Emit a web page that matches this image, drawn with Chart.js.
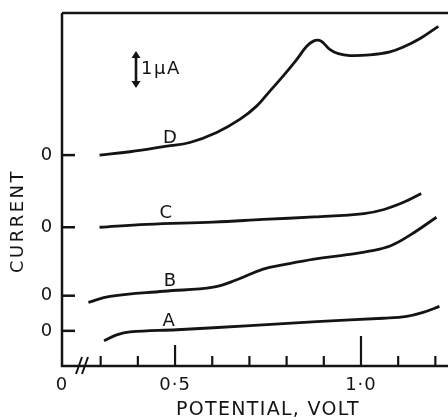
<!DOCTYPE html>
<html>
<head>
<meta charset="utf-8">
<script src="https://cdn.jsdelivr.net/npm/chart.js@4/dist/chart.umd.min.js"></script>
<style>
  body { margin: 0; background: #fff; }
</style>
</head>
<body>
<canvas id="myChart" width="448" height="420"></canvas>
<script>
// traces: potential (V) / current (uA, relative to each trace's own zero)
const potA = [0.309, 0.343, 0.379, 0.505, 0.702, 0.881, 1.060, 1.123, 1.167, 1.211];
const curA = [-0.27, -0.11, -0.03, 0.03, 0.14, 0.25, 0.34, 0.39, 0.50, 0.66];

const potB = [0.267, 0.325, 0.469, 0.603, 0.666, 0.737, 0.793, 0.874, 0.963, 1.026, 1.080, 1.134, 1.203];
const curB = [-0.18, -0.02, 0.12, 0.23, 0.43, 0.72, 0.84, 0.99, 1.11, 1.21, 1.35, 1.65, 2.12];

const potC = [0.297, 0.424, 0.603, 0.737, 0.874, 1.008, 1.062, 1.116, 1.162];
const curC = [0.00, 0.08, 0.14, 0.21, 0.28, 0.37, 0.48, 0.68, 0.91];

const potD = [0.297, 0.379, 0.478, 0.540, 0.612, 0.675, 0.720, 0.755, 0.791, 0.827, 0.854, 0.872, 0.888,
              0.899, 0.917, 0.939, 0.970, 1.024, 1.078, 1.114, 1.159, 1.208];
const curD = [0.00, 0.09, 0.24, 0.34, 0.61, 0.97, 1.33, 1.73, 2.14, 2.58, 2.94, 3.08, 3.10,
              3.03, 2.85, 2.74, 2.69, 2.71, 2.79, 2.92, 3.15, 3.48];

// each trace is shifted up so it sits on its own zero
const traceNames = ["A", "B", "C", "D"];
const traceZeros = [0.95, 1.9, 3.75, 5.7];

const xTickVals = [0.3, 0.4, 0.5, 0.6, 0.7, 0.8, 0.9, 1.0, 1.1, 1.2];
const xTickText = ["", "", "0·5", "", "", "", "", "1·0", "", ""];

const INK = "#141414";
const FONT = "'DejaVu Sans', sans-serif";

function toPoints(pot, cur, zero) {
  return pot.map((v, i) => ({ x: v, y: cur[i] + zero }));
}

const traces = [[potA, curA], [potB, curB], [potC, curC], [potD, curD]];

const datasets = traces.map((t, i) => ({
  label: traceNames[i],
  data: toPoints(t[0], t[1], traceZeros[i]),
  borderColor: INK,
  borderWidth: 2.8,
  pointRadius: 0,
  fill: false,
  tension: 0.4
}));

// frame, ticks, labels and the 1 uA bar
const axesPlugin = {
  id: "axesPlugin",
  afterDatasetsDraw(chart) {
    const ctx = chart.ctx;
    const xs = chart.scales.x;
    const ys = chart.scales.y;
    const a = chart.chartArea;
    ctx.save();
    ctx.strokeStyle = INK;
    ctx.fillStyle = INK;
    ctx.lineCap = "butt";

    // left axis, bottom axis, top line
    ctx.lineWidth = 2.5;
    ctx.beginPath();
    ctx.moveTo(a.left, a.top);
    ctx.lineTo(a.right, a.top);
    ctx.moveTo(a.left, a.top);
    ctx.lineTo(a.left, a.bottom);
    ctx.lineTo(a.right, a.bottom);
    ctx.stroke();

    // axis break
    ctx.lineWidth = 2;
    const bx = a.left + 17;
    [0, 6].forEach(d => {
      ctx.beginPath();
      ctx.moveTo(bx + d - 3, a.bottom + 8);
      ctx.lineTo(bx + d + 3, a.bottom - 9);
      ctx.stroke();
    });

    // potential ticks, pointing inward
    ctx.lineWidth = 2.2;
    xTickVals.forEach((v, i) => {
      const px = xs.getPixelForValue(v);
      let len = 10;
      if (xTickText[i] === "0·5") len = 21;
      if (xTickText[i] === "1·0") len = 30;
      ctx.beginPath();
      ctx.moveTo(px, a.bottom);
      ctx.lineTo(px, a.bottom - len);
      ctx.stroke();
    });

    ctx.font = "18px " + FONT;
    ctx.letterSpacing = "1px";
    ctx.textAlign = "center";
    ctx.textBaseline = "middle";
    xTickVals.forEach((v, i) => {
      if (xTickText[i]) ctx.fillText(xTickText[i], xs.getPixelForValue(v), a.bottom + 19);
    });
    ctx.fillText("0", a.left, a.bottom + 19);

    // zero ticks for each trace
    ctx.lineWidth = 2.5;
    traceZeros.forEach(z => {
      const py = ys.getPixelForValue(z);
      ctx.beginPath();
      ctx.moveTo(a.left, py);
      ctx.lineTo(a.left + 13, py);
      ctx.stroke();
      ctx.fillText("0", a.left - 15, py);
    });
    ctx.letterSpacing = "0px";

    // trace letters
    ctx.font = "18px " + FONT;
    const letterPot = [0.483, 0.486, 0.475, 0.486];
    const letterLift = [0.27, 0.38, 0.38, 0.45];
    traceNames.forEach((n, i) => {
      ctx.fillText(n, xs.getPixelForValue(letterPot[i]), ys.getPixelForValue(traceZeros[i] + letterLift[i]));
    });

    // 1 uA scale bar
    const sx = xs.getPixelForValue(0.395);
    const y0 = ys.getPixelForValue(7.51);
    const y1 = ys.getPixelForValue(8.51);
    ctx.lineWidth = 2.6;
    ctx.beginPath();
    ctx.moveTo(sx, y0 - 4);
    ctx.lineTo(sx, y1 + 4);
    ctx.stroke();
    ctx.beginPath();
    ctx.moveTo(sx, y1);
    ctx.lineTo(sx - 4.5, y1 + 7);
    ctx.lineTo(sx + 4.5, y1 + 7);
    ctx.closePath();
    ctx.moveTo(sx, y0);
    ctx.lineTo(sx - 4.5, y0 - 7);
    ctx.lineTo(sx + 4.5, y0 - 7);
    ctx.closePath();
    ctx.fill();
    ctx.textAlign = "left";
    ctx.letterSpacing = "1.5px";
    ctx.fillText("1\u03bcA", sx + 5, (y0 + y1) / 2);

    // axis titles
    ctx.font = "19px " + FONT;
    ctx.letterSpacing = "1.3px";
    ctx.textAlign = "center";
    ctx.fillText("POTENTIAL, VOLT", 268, a.bottom + 44);
    ctx.font = "18px " + FONT;
    ctx.letterSpacing = "2.5px";
    ctx.translate(18, 221);
    ctx.rotate(-Math.PI / 2);
    ctx.fillText("CURRENT", 0, 0);
    ctx.restore();
  }
};

const config = {
  type: "line",
  data: { datasets: datasets },
  options: {
    responsive: false,
    animation: false,
    devicePixelRatio: 1,
    layout: { padding: { left: 62, top: 13, right: 0, bottom: 54 } },
    plugins: { legend: { display: false }, tooltip: { enabled: false } },
    scales: {
      x: { type: "linear", min: 0.196, max: 1.234, display: false },
      y: { type: "linear", min: 0, max: 9.54, display: false }
    }
  },
  plugins: [axesPlugin]
};

const context = document.getElementById("myChart");
const myChart = new Chart(context, config);
</script>
</body>
</html>
